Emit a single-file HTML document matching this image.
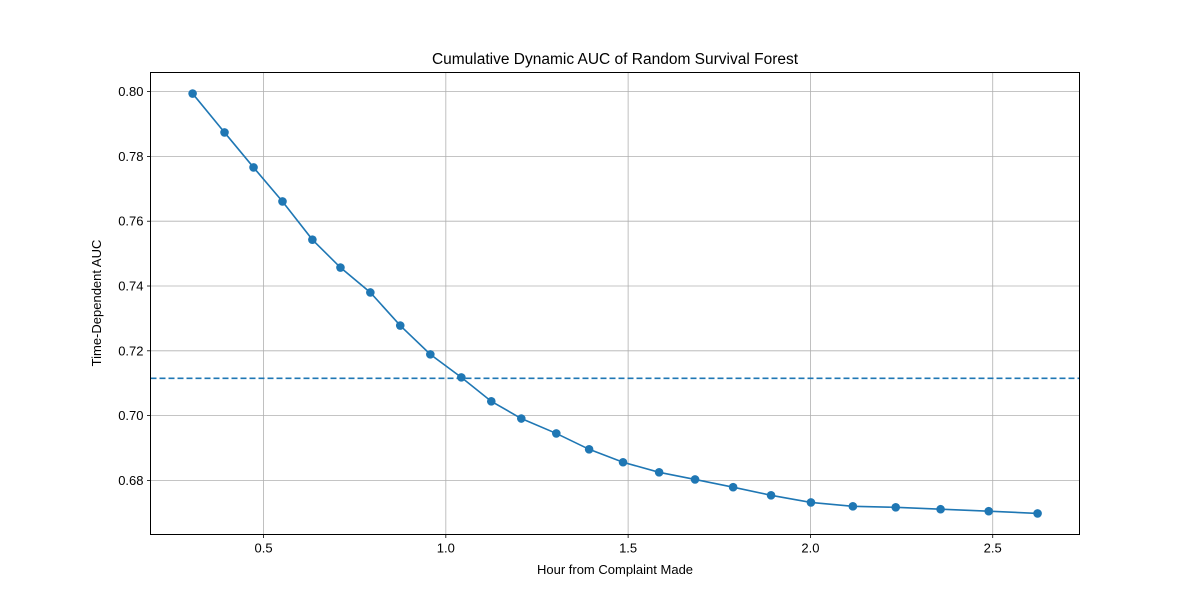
<!DOCTYPE html>
<html><head><meta charset="utf-8"><style>
html,body{margin:0;padding:0;background:#fff;}
svg{display:block;font-family:"Liberation Sans","DejaVu Sans",sans-serif;}
</style></head><body>
<svg id="chart" width="1200" height="600" xmlns="http://www.w3.org/2000/svg">
<rect width="1200" height="600" fill="#fff"/>
<text x="615" y="64" text-anchor="middle" font-size="15.5">Cumulative Dynamic AUC of Random Survival Forest</text>
<text x="615" y="574" text-anchor="middle" font-size="13">Hour from Complaint Made</text>
<text transform="translate(101,303) rotate(-90)" text-anchor="middle" font-size="13">Time-Dependent AUC</text>
<g id="grid"></g><g id="ticks"></g><g id="marks"></g>
<rect x="150.5" y="72.5" width="929" height="462" fill="none" stroke="#000" stroke-width="1"/>
</svg>
<script>
const times=[0.3055,0.393,0.4726,0.552,0.634,0.711,0.793,0.875,0.9575,1.0425,1.1247,1.207,1.303,1.393,1.486,1.585,1.6835,1.788,1.892,2.0014,2.1164,2.234,2.357,2.489,2.623];
const aucValues=[0.7994,0.7874,0.7766,0.7661,0.7543,0.7457,0.738,0.7278,0.7189,0.7118,0.7044,0.6991,0.6945,0.6896,0.6856,0.6825,0.6803,0.6779,0.6754,0.6732,0.672,0.6717,0.6711,0.6705,0.6698];
const meanAuc=0.7115;
const xTicks=[0.5,1.0,1.5,2.0,2.5];
const xTickLabels=["0.5","1.0","1.5","2.0","2.5"];
const yTicks=[0.68,0.70,0.72,0.74,0.76,0.78,0.80];
const yTickLabels=["0.68","0.70","0.72","0.74","0.76","0.78","0.80"];
const L=150.5,R=1079.5,T=72.5,B=534.5;
const xMin=0.19,xMax=2.738,yMin=0.6633,yMax=0.8059;
const X=v=>L+(v-xMin)/(xMax-xMin)*(R-L);
const Y=v=>B-(v-yMin)/(yMax-yMin)*(B-T);
const NS="http://www.w3.org/2000/svg";
function mk(tag,attrs,parent){const e=document.createElementNS(NS,tag);for(const k in attrs)e.setAttribute(k,attrs[k]);document.getElementById(parent).appendChild(e);return e;}
xTicks.forEach((t,i)=>{
 const g=mk('line',{x1:X(t),x2:X(t),y1:T,y2:B,stroke:'#b0b0b0','stroke-width':0.8},'grid');
 
 
 const tk=mk('line',{x1:X(t),x2:X(t),y1:B,y2:B+3.5,stroke:'#000','stroke-width':0.8},'ticks');
 
 
 const tx=mk('text',{x:X(t),y:B+18,'text-anchor':'middle','font-size':13},'ticks');
 
 
 tx.textContent=xTickLabels[i];
});
yTicks.forEach((t,i)=>{
 const g=mk('line',{x1:L,x2:R,y1:Y(t),y2:Y(t),stroke:'#b0b0b0','stroke-width':0.8},'grid');
 
 
 const tk=mk('line',{x1:L-3.5,x2:L,y1:Y(t),y2:Y(t),stroke:'#000','stroke-width':0.8},'ticks');
 
 
 const tx=mk('text',{x:L-7,y:Y(t)+4.5,'text-anchor':'end','font-size':13},'ticks');
 
 
 tx.textContent=yTickLabels[i];
});
const ml=mk('line',{x1:L,x2:R,y1:Y(meanAuc),y2:Y(meanAuc),stroke:'#1f77b4','stroke-width':1.6,'stroke-dasharray':'6,3'},'marks');


const pl=mk('polyline',{points:times.map((t,i)=>X(t)+','+Y(aucValues[i])).join(' '),fill:'none',stroke:'#1f77b4','stroke-width':1.6},'marks');


times.forEach((t,i)=>{
 const c=mk('circle',{cx:X(t),cy:Y(aucValues[i]),r:4.3,fill:'#1f77b4'},'marks');
 
 
});
</script>
</body></html>
